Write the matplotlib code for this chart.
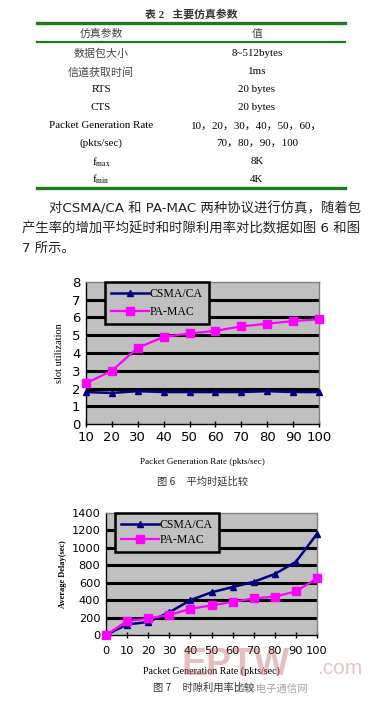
import matplotlib
matplotlib.use('Agg')
import matplotlib.pyplot as plt
from matplotlib.lines import Line2D

W, H = 374, 705

# ── data ─────────────────────────────────────────────────────────────────
table_title = "表 2   主要仿真参数"
table_header = ("仿真参数", "值")
table_params = ["数据包大小", "信道获取时间", "RTS", "CTS",
                "Packet Generation Rate", "(pkts/sec)",
                r"f$_{\mathrm{max}}$", r"f$_{\mathrm{min}}$"]
table_values = ["8~512bytes", "1ms", "20 bytes", "20 bytes",
                "10，20，30，40，50，60，", "70，80，90，100", "8K", "4K"]

para_lines = ["对CSMA/CA 和 PA-MAC 两种协议进行仿真，随着包",
              "产生率的增加平均延时和时隙利用率对比数据如图 6 和图",
              "7 所示。"]

rate6 = [10, 20, 30, 40, 50, 60, 70, 80, 90, 100]
csma_slot = [1.8, 1.75, 1.85, 1.8, 1.8, 1.8, 1.8, 1.85, 1.8, 1.8]
pamac_slot = [2.3, 3.0, 4.3, 4.9, 5.1, 5.25, 5.5, 5.65, 5.8, 5.9]

rate7 = [0, 10, 20, 30, 40, 50, 60, 70, 80, 90, 100]
csma_delay = [0, 120, 150, 260, 400, 490, 550, 610, 700, 840, 1160]
pamac_delay = [0, 160, 190, 230, 300, 340, 380, 420, 440, 500, 650]

series_names = ["CSMA/CA", "PA-MAC"]
cap6 = "图 6     平均时延比较"
cap7 = "图 7     时隙利用率比较"
xlab = "Packet Generation Rate (pkts/sec)"

# ── styling ──────────────────────────────────────────────────────────────
plt.rcParams['mathtext.fontset'] = 'stix'
SERIF = ['Liberation Serif', 'Noto Sans CJK SC']
CJK = ['Noto Sans CJK SC', 'DejaVu Sans']
SANS = ['DejaVu Sans', 'Noto Sans CJK SC']
GREEN = '#1f7a1f'
NAVY = '#000080'
MAGENTA = '#ff00ff'
PLOT_BG = '#c0c0c0'

fig = plt.figure(figsize=(W / 100, H / 100), dpi=100)


def fx(x):
    return x / W


def fy(y):
    return 1 - y / H


def put(x, y, s, size, family=SERIF, ha='center', **kw):
    fig.text(fx(x), fy(y), s, fontsize=size, family=family, ha=ha, va='center', **kw)


# ── table ────────────────────────────────────────────────────────────────
put(191, 14, table_title, 7.8, family=SERIF, weight='bold', color='#333333')
for y, lw in ((23, 2.4), (42, 1.6), (188, 2.4)):
    fig.add_artist(Line2D([fx(37), fx(345)], [fy(y), fy(y)], color=GREEN, lw=lw))
put(101, 34, table_header[0], 7.8, family=CJK, color='#444444')
put(257, 34, table_header[1], 7.8, family=CJK, color='#444444')
row_y = [54, 72, 90, 108, 126, 143, 162, 179]
for y, p, v in zip(row_y, table_params, table_values):
    tone = '#444444' if p[0] > '\u3000' else 'black'
    put(101, y, p, 7.9, family=SERIF if tone == 'black' else CJK, color=tone)
    put(257, y, v, 7.9, family=SERIF)

# ── paragraph ────────────────────────────────────────────────────────────
put(49, 209, para_lines[0], 9.6, family=SANS, ha='left', color='#222222')
put(22, 229, para_lines[1], 9.6, family=SANS, ha='left', color='#222222')
put(22, 248, para_lines[2], 9.6, family=SANS, ha='left', color='#222222')


def style_axes(ax, ymax, ystep, xpad, size):
    ax.set_facecolor(PLOT_BG)
    ax.set_ylim(0, ymax)
    ax.set_yticks(range(0, ymax + 1, ystep))
    for v in range(ystep, ymax, ystep):
        ax.axhline(v, color='black', lw=2.2, zorder=1)
    for s in ('top', 'right'):
        ax.spines[s].set_color('#808080')
        ax.spines[s].set_linewidth(1.0)
    ax.spines['left'].set_linewidth(1.0)
    ax.spines['bottom'].set_linewidth(1.0)
    ax.tick_params(axis='x', direction='inout', length=4, width=1, pad=xpad, labelsize=size)
    ax.tick_params(axis='y', length=0, pad=4, labelsize=size)
    for lab in ax.get_xticklabels() + ax.get_yticklabels():
        lab.set_family('DejaVu Sans')


def add_legend(ax, handles, left, spacing):
    leg = ax.legend(handles, series_names, loc='upper left', bbox_to_anchor=(left, 1.0),
                    frameon=True, fancybox=False, borderaxespad=0, handlelength=3.2,
                    handletextpad=0.1, borderpad=0.5, labelspacing=spacing,
                    prop={'family': 'Liberation Serif', 'size': 8.5})
    fr = leg.get_frame()
    fr.set_facecolor(PLOT_BG)
    fr.set_edgecolor('black')
    fr.set_linewidth(1.8)
    fr.set_alpha(1)


# ── figure 6 ─────────────────────────────────────────────────────────────
ax1 = fig.add_axes([fx(86), fy(424), (319 - 86) / W, (424 - 282) / H])
style_axes(ax1, 8, 1, 3, 9.5)
ax1.set_xlim(10, 100)
ax1.set_xticks(rate6)
h1, = ax1.plot(rate6, csma_slot, color=NAVY, lw=1.8, marker='^', ms=5, zorder=3)
h2, = ax1.plot(rate6, pamac_slot, color=MAGENTA, lw=1.6, marker='s', ms=5.5, zorder=3)
for c in (h1, h2):
    c.set_clip_on(False)
add_legend(ax1, [h1, h2], 0.082, 0.55)
ax1.set_ylabel("slot utilization", family='Liberation Serif', fontsize=7.5)
ax1.yaxis.set_label_coords((64 - 86) / 233, 0.5)
put(202, 462, xlab, 6.6, family=SERIF)
put(203, 481, cap6, 7.4, family=CJK, color='#333333')

# ── figure 7 ─────────────────────────────────────────────────────────────
ax2 = fig.add_axes([fx(106), fy(635), (317 - 106) / W, (635 - 513) / H])
style_axes(ax2, 1400, 200, 6, 8.2)
ax2.set_xlim(0, 100)
ax2.set_xticks(rate7)
g1, = ax2.plot(rate7, csma_delay, color=NAVY, lw=1.8, marker='^', ms=5, zorder=3)
g2, = ax2.plot(rate7, pamac_delay, color=MAGENTA, lw=1.6, marker='s', ms=5.5, zorder=3)
for c in (g1, g2):
    c.set_clip_on(False)
add_legend(ax2, [g1, g2], 0.043, 0.25)
ax2.set_ylabel("Average Delay(sec)", family='Liberation Serif', fontsize=6, weight='bold')
ax2.yaxis.set_label_coords((67 - 106) / 211, 0.5)
put(211, 671, xlab, 7.2, family=SERIF)
put(204, 688, cap7, 7.4, family=CJK, color='#333333')

# ── watermark ────────────────────────────────────────────────────────────
put(236, 665, "EPTW", 27, family=['Liberation Sans'], weight='bold',
    color='#c06060', alpha=0.4)
put(340, 669, ".com", 15, family=['Liberation Sans'], color='#c07070', alpha=0.4)
put(272, 689, "世界电子通信网", 7.5, family=CJK, color='#909090', alpha=0.8)

fig.savefig('out.png', dpi=100)
